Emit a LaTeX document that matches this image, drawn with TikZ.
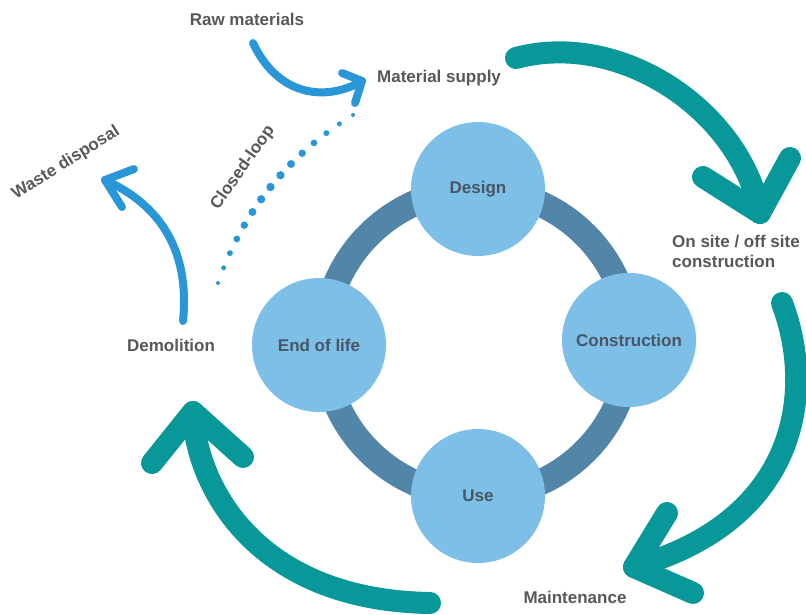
\documentclass[tikz,border=0pt]{standalone}
\usepackage{fontspec}
\setmainfont{Liberation Sans}
\usepackage{tikz}
\usetikzlibrary{positioning}
\definecolor{loopteal}{RGB}{8,152,154}
\definecolor{flowblue}{RGB}{40,150,215}
\definecolor{ringblue}{RGB}{82,134,168}
\definecolor{stageblue}{RGB}{126,191,231}
\definecolor{stagetext}{RGB}{72,86,102}
\definecolor{labelgray}{RGB}{88,88,90}

\tikzset{
  stage/.style={circle,fill=stageblue,minimum size=134pt,inner sep=0pt,
    text=stagetext,font=\bfseries\fontsize{17}{20}\selectfont},
  lbl/.style={text=labelgray,inner sep=1pt,font=\bfseries\fontsize{17}{20}\selectfont},
  bigarrow/.style={loopteal,line width=22pt,line cap=round,line join=round},
  smallarrow/.style={flowblue,line width=8pt,line cap=round,line join=round}
}

\begin{document}
\begin{tikzpicture}[x=1pt,y=-1pt]
  \useasboundingbox (0,0) rectangle (806,614);

  % ring of stages
  \coordinate (c) at (477,343);
  \draw[ringblue,line width=26pt] (c) circle (153);
  \node[stage] (design) at (478,189) {Design};
  \node[stage] (constr) at (629,340) {Construction};
  \node[stage] (use) at (478,496) {Use};
  \node[stage] (eol) at (319,345) {End of life};

  % outer labels
  \node[lbl] (raw) at (247,19) {Raw materials};
  \node[lbl,anchor=west] (supply) at (376,78) {Material supply};
  \node[lbl,anchor=west,align=left] (onsite) at (671,251) {On site / off site\\construction};
  \node[lbl] (maint) at (575,597) {Maintenance};
  \node[lbl] (demol) at (171,345) {Demolition};
  \node[lbl,rotate=32] (waste) at (66,163) {Waste disposal};
  \node[lbl,rotate=55] (closed) at (243,168) {Closed-loop};

  % teal cycle arrows
  \coordinate (t1a) at (516,58);
  \coordinate (t1b) at (760,213);
  \draw[bigarrow] (t1a) .. controls (620,30) and (740,110) .. (t1b);
  \draw[bigarrow] (703,177) -- (t1b) -- (790,158);

  \coordinate (t2a) at (782,303);
  \coordinate (t2b) at (634,567);
  \draw[bigarrow] (t2a) .. controls (815,390) and (800,520) .. (t2b);
  \draw[bigarrow] (667,513) -- (t2b) -- (693,593);

  \coordinate (t3a) at (430,603);
  \coordinate (t3b) at (193,412);
  \draw[bigarrow] (t3a) .. controls (250,600) and (195,480) .. (t3b);
  \draw[bigarrow] (152,463) -- (t3b) -- (243,457);

  % blue flow arrows
  \coordinate (b1a) at (253,43);
  \coordinate (b1b) at (362,81);
  \draw[smallarrow] (b1a) .. controls (280,100) and (330,100) .. (b1b);
  \draw[smallarrow] (342,73) -- (b1b) -- (355,103);

  \coordinate (b2a) at (183,321);
  \coordinate (b2b) at (105,180);
  \draw[smallarrow] (b2a) .. controls (190,250) and (160,205) .. (b2b);
  \draw[smallarrow] (134,169) -- (b2b) -- (122,207);

  % closed loop dots
  \coordinate (d0) at (218,283);
  \coordinate (d1) at (353,115);
  \foreach \i in {0,...,14}{
    \pgfmathsetmacro{\drad}{2+2.2*sin(180*\i/14)}
    \path (d0) .. controls (243,211) and (288,155) .. (d1)
      coordinate[pos=\i/14] (dot\i);
    \fill[flowblue] (dot\i) circle (\drad);
  }
\end{tikzpicture}
\end{document}
